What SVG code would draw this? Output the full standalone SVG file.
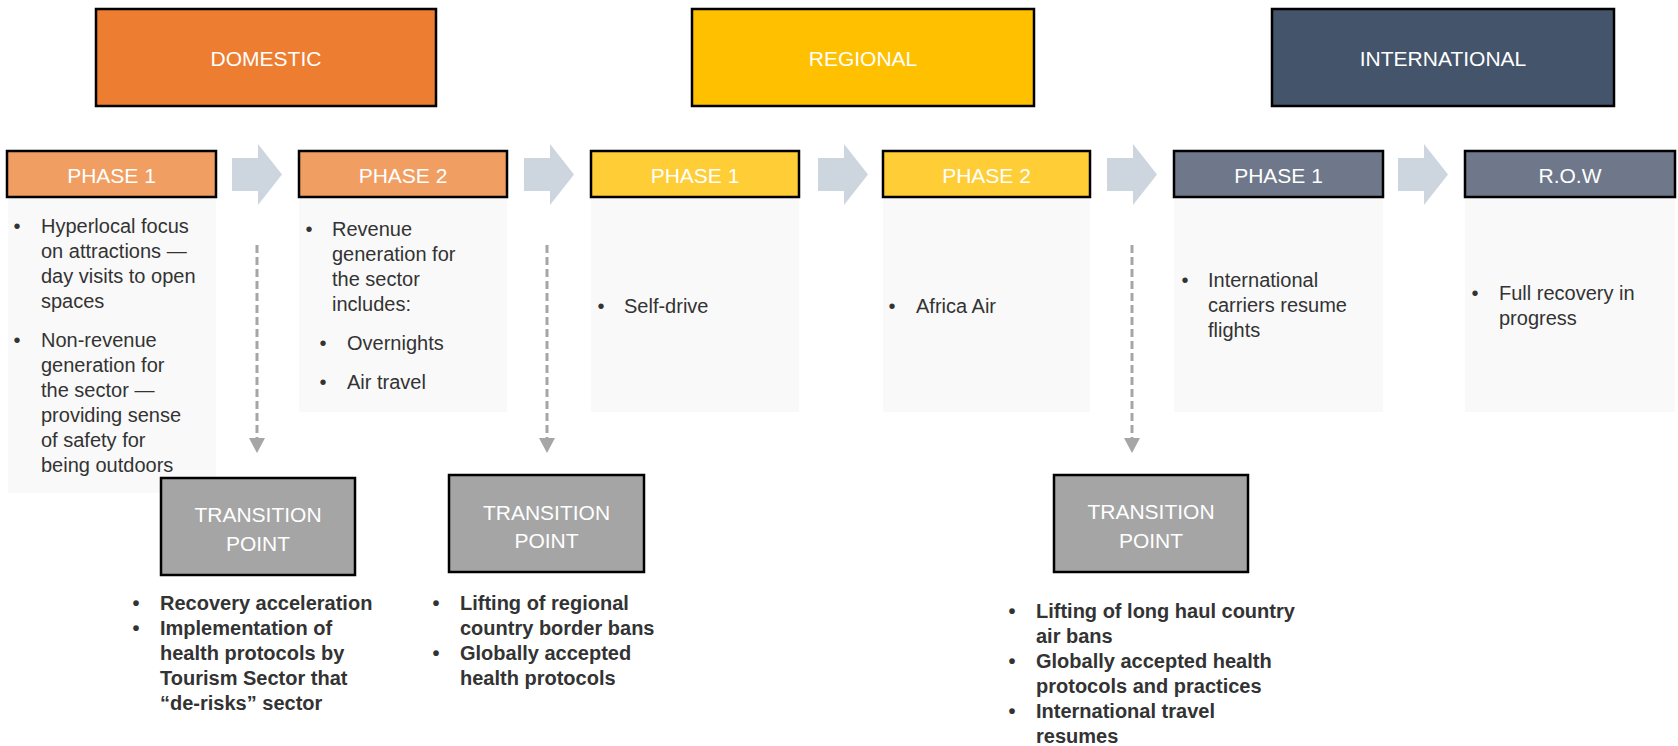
<svg xmlns="http://www.w3.org/2000/svg" xmlns:xlink="http://www.w3.org/1999/xlink" width="1678" height="746" viewBox="0 0 1678 746">
<style>
  .hdr { stroke:#000; stroke-width:2.5; }
  .ph { stroke:#000; stroke-width:2.5; }
  .content { fill:#F9F9F9; }
  .tp { fill:#A5A5A5; stroke:#000; stroke-width:2.5; }
  .wt { font-family:"Liberation Sans", Arial, sans-serif; fill:#FFFFFF; text-anchor:middle; }
  .hdrt { font-size:21px; }
  .pht { font-size:21px; }
  .tpt { font-size:21px; }
  .body { font-family:"Liberation Sans", Arial, sans-serif; font-size:20px; fill:#333333; }
  .bold { font-family:"Liberation Sans", Arial, sans-serif; font-size:20px; font-weight:bold; fill:#333333; }
  .bul { text-anchor:middle; }
  .chev { fill:#CDD5DF; }
  .dash { stroke:#A6A6A6; stroke-width:3; stroke-dasharray:8 4; fill:none; }
</style>
<defs>
  <path id="chev" d="M0,158 L26,158 L26,144 L50,174.5 L26,205 L26,191 L0,191 Z"/>
  <marker id="ah" viewBox="0 0 16 16" markerWidth="16" markerHeight="16" refX="0" refY="8" orient="auto" markerUnits="userSpaceOnUse">
    <path d="M0,0 L15,8 L0,16 Z" fill="#A6A6A6"/>
  </marker>
</defs>
<rect width="1678" height="746" fill="#FFFFFF"/>

<g id="domestic">
  <rect class="hdr" x="96" y="9" width="340" height="97" fill="#ED7D31"/>
  <text class="wt hdrt" x="266" y="66">DOMESTIC</text>
</g>
<g id="regional">
  <rect class="hdr" x="692" y="9" width="342" height="97" fill="#FFC000"/>
  <text class="wt hdrt" x="863" y="66">REGIONAL</text>
</g>
<g id="international">
  <rect class="hdr" x="1272" y="9" width="342" height="97" fill="#44546A"/>
  <text class="wt hdrt" x="1443" y="66">INTERNATIONAL</text>
</g>

<g id="connectors">
  <use xlink:href="#chev" href="#chev" class="chev" x="232"/>
  <use xlink:href="#chev" href="#chev" class="chev" x="524"/>
  <use xlink:href="#chev" href="#chev" class="chev" x="818"/>
  <use xlink:href="#chev" href="#chev" class="chev" x="1107"/>
  <use xlink:href="#chev" href="#chev" class="chev" x="1398"/>
  <line class="dash" x1="257" y1="245" x2="257" y2="438" marker-end="url(#ah)"/>
  <line class="dash" x1="547" y1="245" x2="547" y2="438" marker-end="url(#ah)"/>
  <line class="dash" x1="1132" y1="245" x2="1132" y2="438" marker-end="url(#ah)"/>
</g>

<g id="dom-phase1">
  <rect class="content" x="8" y="198" width="208" height="295"/>
  <rect class="ph" x="7" y="151" width="209" height="46" fill="#F19E63"/>
  <text class="wt pht" x="111.5" y="183">PHASE 1</text>
  <text class="body bul" x="17" y="233">•</text>
  <text class="body" x="41" y="233">Hyperlocal focus</text>
  <text class="body" x="41" y="258">on attractions —</text>
  <text class="body" x="41" y="283">day visits to open</text>
  <text class="body" x="41" y="308">spaces</text>
  <text class="body bul" x="17" y="347">•</text>
  <text class="body" x="41" y="347">Non-revenue</text>
  <text class="body" x="41" y="372">generation for</text>
  <text class="body" x="41" y="397">the sector —</text>
  <text class="body" x="41" y="422">providing sense</text>
  <text class="body" x="41" y="447">of safety for</text>
  <text class="body" x="41" y="472">being outdoors</text>
</g>

<g id="dom-phase2">
  <rect class="content" x="299" y="198" width="208" height="214"/>
  <rect class="ph" x="299" y="151" width="208" height="46" fill="#F19E63"/>
  <text class="wt pht" x="403" y="183">PHASE 2</text>
  <text class="body bul" x="309" y="236">•</text>
  <text class="body" x="332" y="236">Revenue</text>
  <text class="body" x="332" y="261">generation for</text>
  <text class="body" x="332" y="286">the sector</text>
  <text class="body" x="332" y="311">includes:</text>
  <text class="body bul" x="323" y="350">•</text>
  <text class="body" x="347" y="350">Overnights</text>
  <text class="body bul" x="323" y="389">•</text>
  <text class="body" x="347" y="389">Air travel</text>
</g>

<g id="reg-phase1">
  <rect class="content" x="591" y="198" width="208" height="214"/>
  <rect class="ph" x="591" y="151" width="208" height="46" fill="#FFCD36"/>
  <text class="wt pht" x="695" y="183">PHASE 1</text>
  <text class="body bul" x="601" y="313">•</text>
  <text class="body" x="624" y="313">Self-drive</text>
</g>

<g id="reg-phase2">
  <rect class="content" x="883" y="198" width="207" height="214"/>
  <rect class="ph" x="883" y="151" width="207" height="46" fill="#FFCD36"/>
  <text class="wt pht" x="986.5" y="183">PHASE 2</text>
  <text class="body bul" x="892" y="313">•</text>
  <text class="body" x="916" y="313">Africa Air</text>
</g>

<g id="int-phase1">
  <rect class="content" x="1174" y="198" width="209" height="214"/>
  <rect class="ph" x="1174" y="151" width="209" height="46" fill="#6E788A"/>
  <text class="wt pht" x="1278.5" y="183">PHASE 1</text>
  <text class="body bul" x="1185" y="287">•</text>
  <text class="body" x="1208" y="287">International</text>
  <text class="body" x="1208" y="312">carriers resume</text>
  <text class="body" x="1208" y="337">flights</text>
</g>

<g id="int-row">
  <rect class="content" x="1465" y="198" width="210" height="214"/>
  <rect class="ph" x="1465" y="151" width="210" height="46" fill="#6E788A"/>
  <text class="wt pht" x="1570" y="183">R.O.W</text>
  <text class="body bul" x="1475" y="300">•</text>
  <text class="body" x="1499" y="300">Full recovery in</text>
  <text class="body" x="1499" y="325">progress</text>
</g>

<g id="transition1">
  <rect class="tp" x="161" y="478" width="194" height="97"/>
  <text class="wt tpt" x="258" y="522">TRANSITION</text>
  <text class="wt tpt" x="258" y="551">POINT</text>
  <text class="bold bul" x="136" y="610">•</text>
  <text class="bold" x="160" y="610">Recovery acceleration</text>
  <text class="bold bul" x="136" y="635">•</text>
  <text class="bold" x="160" y="635">Implementation of</text>
  <text class="bold" x="160" y="660">health protocols by</text>
  <text class="bold" x="160" y="685">Tourism Sector that</text>
  <text class="bold" x="160" y="710">“de-risks” sector</text>
</g>

<g id="transition2">
  <rect class="tp" x="449" y="475" width="195" height="97"/>
  <text class="wt tpt" x="546.5" y="520">TRANSITION</text>
  <text class="wt tpt" x="546.5" y="548">POINT</text>
  <text class="bold bul" x="436" y="610">•</text>
  <text class="bold" x="460" y="610">Lifting of regional</text>
  <text class="bold" x="460" y="635">country border bans</text>
  <text class="bold bul" x="436" y="660">•</text>
  <text class="bold" x="460" y="660">Globally accepted</text>
  <text class="bold" x="460" y="685">health protocols</text>
</g>

<g id="transition3">
  <rect class="tp" x="1054" y="475" width="194" height="97"/>
  <text class="wt tpt" x="1151" y="519">TRANSITION</text>
  <text class="wt tpt" x="1151" y="548">POINT</text>
  <text class="bold bul" x="1012" y="618">•</text>
  <text class="bold" x="1036" y="618">Lifting of long haul country</text>
  <text class="bold" x="1036" y="643">air bans</text>
  <text class="bold bul" x="1012" y="668">•</text>
  <text class="bold" x="1036" y="668">Globally accepted health</text>
  <text class="bold" x="1036" y="693">protocols and practices</text>
  <text class="bold bul" x="1012" y="718">•</text>
  <text class="bold" x="1036" y="718">International travel</text>
  <text class="bold" x="1036" y="743">resumes</text>
</g>
</svg>
